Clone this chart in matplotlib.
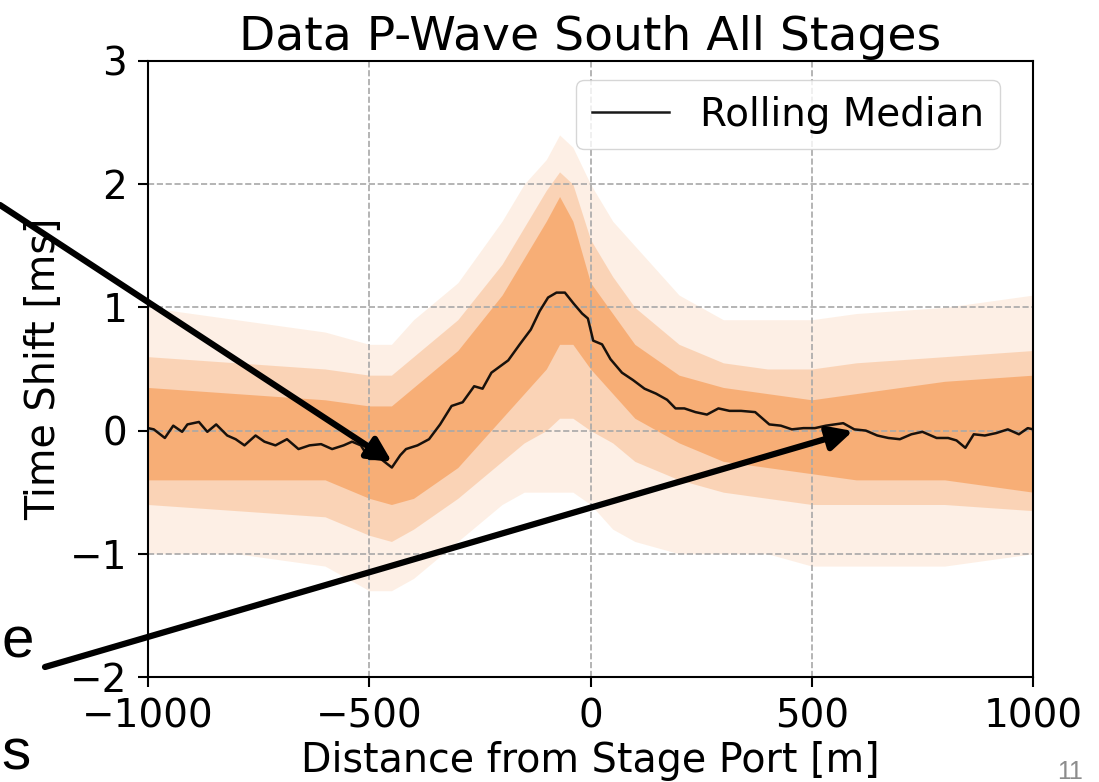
import matplotlib
matplotlib.use("Agg")
import matplotlib.pyplot as plt

# Rolling median of the time shift
median_dist = [-1000, -987, -962, -943, -923, -911, -885, -866, -846, -821,
               -802, -782, -757, -737, -712, -686, -660, -635, -609, -584,
               -558, -539, -519, -500, -474, -449, -430, -417, -391, -365,
               -340, -314, -289, -263, -244, -224, -205, -186, -160, -135,
               -115, -96, -77, -58, -38, -19, -6, 6, 26, 45,
               71, 96, 122, 148, 173, 192, 212, 237, 263, 289,
               314, 340, 372, 404, 430, 455, 481, 507, 532, 571,
               596, 622, 648, 673, 699, 725, 750, 782, 808, 827,
               847, 866, 891, 917, 943, 968, 988, 1000]
median_shift = [0.02, 0.01, -0.06, 0.04, -0.01, 0.05, 0.07, -0.01, 0.05, -0.04,
                -0.07, -0.12, -0.04, -0.09, -0.12, -0.07, -0.15, -0.12, -0.11, -0.15,
                -0.12, -0.09, -0.12, -0.23, -0.23, -0.30, -0.20, -0.15, -0.12, -0.07,
                0.05, 0.20, 0.23, 0.36, 0.34, 0.47, 0.52, 0.57, 0.70, 0.82,
                0.97, 1.08, 1.12, 1.12, 1.03, 0.95, 0.91, 0.73, 0.70, 0.58,
                0.47, 0.41, 0.34, 0.30, 0.25, 0.18, 0.18, 0.15, 0.13, 0.18,
                0.16, 0.16, 0.15, 0.05, 0.04, 0.01, 0.02, 0.02, 0.04, 0.06,
                0.01, 0.00, -0.04, -0.06, -0.07, -0.03, -0.01, -0.06, -0.06, -0.08,
                -0.14, -0.03, -0.04, -0.02, 0.01, -0.03, 0.02, 0.01]

# Extent of the scattered picks (outer faint cloud, middle and dense core)
band_dist = [-1000, -800, -600, -500, -450, -400, -300, -200, -150, -100,
             -70, -40, 0, 50, 100, 200, 300, 400, 500, 600, 800, 1000]
outer_hi = [1.0, 0.9, 0.8, 0.7, 0.7, 0.9, 1.2, 1.7, 2.0, 2.2,
            2.4, 2.3, 2.0, 1.7, 1.5, 1.1, 0.9, 0.9, 0.9, 0.95, 1.0, 1.1]
outer_lo = [-1.0, -1.0, -1.1, -1.3, -1.3, -1.2, -0.9, -0.6, -0.5, -0.5,
            -0.5, -0.5, -0.6, -0.8, -0.9, -1.0, -1.0, -1.0, -1.1, -1.1, -1.1, -1.0]
mid_hi = [0.6, 0.55, 0.5, 0.45, 0.45, 0.6, 0.9, 1.35, 1.65, 1.95,
          2.1, 2.0, 1.55, 1.25, 1.0, 0.7, 0.55, 0.5, 0.5, 0.55, 0.6, 0.65]
mid_lo = [-0.6, -0.65, -0.7, -0.85, -0.9, -0.8, -0.55, -0.25, -0.1, 0.0,
          0.1, 0.1, 0.0, -0.1, -0.25, -0.4, -0.5, -0.55, -0.6, -0.6, -0.6, -0.65]
core_hi = [0.35, 0.3, 0.25, 0.2, 0.2, 0.35, 0.65, 1.1, 1.4, 1.7,
           1.9, 1.7, 1.2, 0.95, 0.7, 0.45, 0.35, 0.3, 0.25, 0.3, 0.4, 0.45]
core_lo = [-0.4, -0.4, -0.4, -0.55, -0.6, -0.55, -0.3, 0.1, 0.3, 0.5,
           0.7, 0.7, 0.5, 0.3, 0.1, -0.1, -0.25, -0.3, -0.35, -0.4, -0.4, -0.5]

x_ticks = [-1000, -500, 0, 500, 1000]
y_ticks = [-2, -1, 0, 1, 2, 3]

fig = plt.figure(figsize=(10.99, 7.82), dpi=100)
ax = fig.add_axes([0.1347, 0.1343, 0.8053, 0.7877])

orange = "#f5822a"
ax.fill_between(band_dist, outer_lo, outer_hi, color=orange, alpha=0.12, lw=0)
ax.fill_between(band_dist, mid_lo, mid_hi, color=orange, alpha=0.25, lw=0)
ax.fill_between(band_dist, core_lo, core_hi, color=orange, alpha=0.45, lw=0)

ax.plot(median_dist, median_shift, color="black", lw=1.8, alpha=0.9,
        label="Rolling Median")

ax.set_xlim(-1000, 1000)
ax.set_ylim(-2, 3)
ax.set_xticks(x_ticks)
ax.set_yticks(y_ticks)
ax.grid(True, linestyle="--", color="#a8a8a8", lw=1.2)
ax.tick_params(labelsize=28, length=7, width=1.5, pad=8)
for s in ax.spines.values():
    s.set_linewidth(1.5)

ax.set_title("Data P-Wave South All Stages", fontsize=34, pad=8)
ax.set_xlabel("Distance from Stage Port [m]", fontsize=28.5, labelpad=4)
ax.set_ylabel("Time Shift [ms]", fontsize=28.5, labelpad=4)

ax.legend(loc="upper right", bbox_to_anchor=(0.9627, 0.969), borderaxespad=0,
          fontsize=28, handlelength=2.0, handletextpad=0.8, framealpha=0.8)

# slide arrows pointing into the plot
arrow = dict(arrowstyle="-|>", lw=4.5, color="black", mutation_scale=36,
             shrinkA=0, shrinkB=0)
ax.annotate("", xy=(392, 782 - 462), xytext=(0, 782 - 205),
            xycoords="figure pixels", textcoords="figure pixels",
            arrowprops=arrow, annotation_clip=False, zorder=10)
ax.annotate("", xy=(853, 782 - 431), xytext=(45, 782 - 667),
            xycoords="figure pixels", textcoords="figure pixels",
            arrowprops=arrow, annotation_clip=False, zorder=10)

# leftover slide text
fig.text(1 / 1099, 1 - 657 / 782, "e", ha="left", va="baseline",
         fontsize=42, family="Liberation Sans")
fig.text(1 / 1099, 1 / 782, "s", ha="left", va="bottom",
         fontsize=42, family="Liberation Sans")
fig.text(1057 / 1099, 1 - 760 / 782, "11", ha="left", va="top",
         fontsize=18, color="#8c8c8c", family="Liberation Sans")

fig.savefig("out.png", dpi=100)
